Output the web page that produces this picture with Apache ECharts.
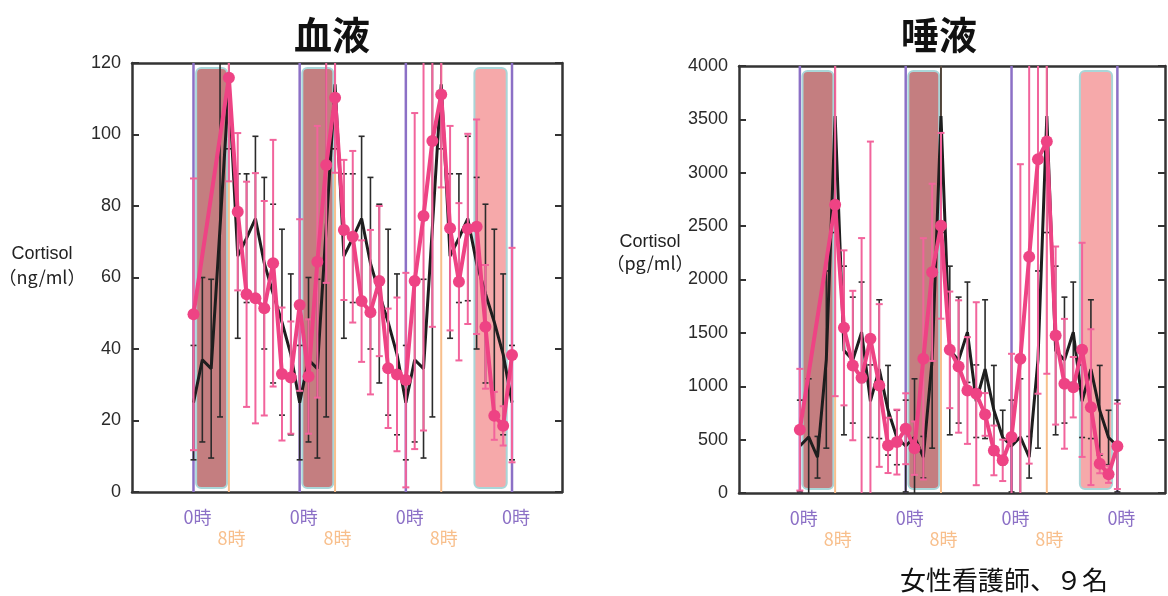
<!DOCTYPE html>
<html><head><meta charset="utf-8">
<script src="https://cdn.jsdelivr.net/npm/echarts@6/dist/echarts.min.js"></script>
<style>html,body{margin:0;padding:0;background:#fff}#c{width:1168px;height:596px}</style>
</head><body><div id="c"></div>
<script>
// ---------- data ----------
const blackHours = [0,2,4,6,8,10,12,14,16,18,20,22,24,26,28,30,32,34,36,38,40,42,44,46,48,50,52,54,56,58,60,62,64,66,68,70,72];
const pinkHours  = [0,8,10,12,14,16,18,20,22,24,26,28,30,32,34,36,38,40,42,44,46,48,50,52,54,56,58,60,62,64,66,68,70,72];

const bloodBlackMean = [25,37,34.5,74,114,66,71,76.5,64,55.5,47.5,38.5, 25,37,34.5,74,114,66,71,76.5,64,55.5,47.5,38.5, 25,37,34.5,74,114,66,71,76.5,64,55.5,47.5,38.5, 25];
const bloodBlackSd   = [16,23,25,53,18,23,18,23,24,25,26,22.5, 16,23,25,53,18,23,18,23,24,25,26,22.5, 16,23,25,53,18,23,18,23,24,25,26,22.5, 16];
const bloodPinkMean = [49.7,115.9,78.4,55.3,54.2,51.4,64.0,33.0,32.0, 52.3,32.3,64.4,91.5,110.3,73.3,71.4,53.4,50.3,59.0,34.6,32.9, 31.3,59.0,77.2,98.2,111.2,73.8,58.8,73.6,74.2,46.2,21.3,18.5, 38.3];
const bloodPinkSd   = [38,29,22,31.5,35,30,34.5,18.6,15.7, 24,16,38,33,21,19.6,24,17,23,21,16.7,21.5, 30,47,60,52,26,28.6,22,26.6,30,17.3,6.7,5.5, 30];

const salivaBlackMean = [440,525,335,1250,3530,1335,1245,1506,860,1160,775,520, 440,525,335,1250,3530,1335,1245,1506,860,1160,775,520, 440,525,335,1250,3530,1335,1245,1506,860,1160,775,520, 440];
const salivaBlackSd   = [430,545,195,830,1090,790,590,470,340,650,420,255, 430,545,195,830,1090,790,590,470,340,650,420,255, 430,545,195,830,1090,790,590,470,340,650,420,255, 430];
const salivaPinkMean = [593,2700,1547,1194,1079,1444,1007,446,477, 602,420,1257,2067,2503,1341,1185,960,930,736,399,306, 524,1257,2214,3127,3292,1475,1023,991,1341,804,275,175, 437];
const salivaPinkSd   = [570,1793,726,700,1309,1848,762,259,304, 332,250,1130,830,870,546,620,500,857,200,233,194, 780,1823,1939,2197,2175,834,608,283,1003,730,90,80, 400];

const zeroHours = [0,24,48,72];
const eightHours = [8,32,56];
const sleepBands = [[0.6,7.6,1],[24.6,31.6,1],[63.5,70.8,0]]; // [start h, end h, dark?]

const bloodTicks = {min:0,max:120,interval:20};
const salivaTicks = {min:0,max:4000,interval:500};

// ---------- helpers ----------
const PINK = '#ee4384', PINK_ERR = '#f2649c', BLACK = '#1e1e1e';
const PURPLE = '#8c70c6', ORANGE = '#f8bf8c';
const AX = '#333';
const zip3 = (a,b,c)=>a.map((v,i)=>[v,b[i],c[i]]);
const zip2 = (a,b)=>a.map((v,i)=>[v,b[i]]);

function bandRender(params, api){
  const cs = params.coordSys;
  const x0 = api.coord([api.value(0), 0])[0];
  const x1 = api.coord([api.value(1), 0])[0];
  const dark = api.value(2) === 1;
  return {type:'rect', shape:{x:x0, y:cs.y+5, width:x1-x0, height:cs.height-9, r:5},
    style:{fill: dark ? '#c47e80' : '#f6a9aa', stroke:'#a9d6d8', lineWidth:2}};
}
function vlineRender(params, api){
  const cs = params.coordSys;
  const x = api.coord([api.value(0), 0])[0];
  const isZero = api.value(1) === 0;
  return {type:'line', shape:{x1:x, y1:cs.y, x2:x, y2:cs.y+cs.height},
    style:{stroke: isZero ? PURPLE : ORANGE, lineWidth: isZero ? 2.5 : 2}};
}
function errRender(color, lw, capW){
  return function(params, api){
    const cs = params.coordSys;
    const x = api.value(0), m = api.value(1), s = api.value(2);
    const pT = api.coord([x, m+s]), pB = api.coord([x, m-s]);
    const px = pT[0];
    const top = cs.y, bot = cs.y + cs.height;
    let yT = pT[1], yB = pB[1];
    const capT = yT >= top, capB = yB <= bot;
    yT = Math.max(yT, top); yB = Math.min(yB, bot);
    const st = {stroke:color, lineWidth:lw};
    const ch = [{type:'line', shape:{x1:px,y1:yT,x2:px,y2:yB}, style:st}];
    if (capT) ch.push({type:'line', shape:{x1:px-capW/2,y1:yT,x2:px+capW/2,y2:yT}, style:st});
    if (capB) ch.push({type:'line', shape:{x1:px-capW/2,y1:yB,x2:px+capW/2,y2:yB}, style:st});
    return {type:'group', children:ch};
  };
}

const grids = [
  {left:132, top:63, width:430, height:429, xmin:-13.9, xmax:83.3, ticks:bloodTicks,
   bm:bloodBlackMean, bs:bloodBlackSd, pm:bloodPinkMean, ps:bloodPinkSd},
  {left:739, top:66, width:426, height:427, xmin:-13.8, xmax:82.8, ticks:salivaTicks,
   bm:salivaBlackMean, bs:salivaBlackSd, pm:salivaPinkMean, ps:salivaPinkSd}
];

const option = {animation:false, grid:[], xAxis:[], yAxis:[], series:[], graphic:[]};
const lblFont = '"Noto Sans CJK JP", sans-serif';
grids.forEach((g, gi)=>{
  option.grid.push({left:g.left, top:g.top, width:g.width, height:g.height, containLabel:false});
  const xb = option.xAxis.length;
  const xCommon = {gridIndex:gi, type:'value', min:g.xmin, max:g.xmax, splitLine:{show:false}, axisTick:{show:false}};
  option.xAxis.push(Object.assign({}, xCommon, {position:'bottom',
    axisLine:{show:true, onZero:false, lineStyle:{color:AX, width:2.5}},
    axisLabel:{show:true, customValues:zeroHours, formatter:()=> '0時', color:PURPLE, fontSize:18, fontFamily:lblFont, margin:16, padding:[0,0,0,8]}}));
  option.xAxis.push(Object.assign({}, xCommon, {position:'bottom',
    axisLine:{show:false},
    axisLabel:{show:true, customValues:eightHours, formatter:()=> '8時', color:ORANGE, fontSize:18, fontFamily:lblFont, margin:37, padding:[0,0,0,5]}}));
  option.xAxis.push(Object.assign({}, xCommon, {position:'top',
    axisLine:{show:true, onZero:false, lineStyle:{color:AX, width:2.5}}, axisLabel:{show:false}}));
  const yb = option.yAxis.length;
  const yCommon = {gridIndex:gi, type:'value', min:g.ticks.min, max:g.ticks.max, interval:g.ticks.interval, splitLine:{show:false},
    axisLine:{show:true, onZero:false, lineStyle:{color:AX, width:2.5}},
    axisTick:{show:true, inside:true, length:7, lineStyle:{color:AX, width:2}}};
  option.yAxis.push(Object.assign({}, yCommon, {position:'left',
    axisLabel:{show:true, formatter:(v)=> String(v), color:'#2a2a2a', fontSize:18, fontFamily:'"Liberation Sans", Arial, sans-serif', margin:11}}));
  option.yAxis.push(Object.assign({}, yCommon, {position:'right', axisLabel:{show:false}}));

  const ax = {xAxisIndex:xb, yAxisIndex:yb};
  option.series.push(Object.assign({type:'custom', renderItem:bandRender, data:sleepBands, z:1, silent:true}, ax));
  option.series.push(Object.assign({type:'custom', renderItem:vlineRender,
    data: zeroHours.map(h=>[h,0]).concat(eightHours.map(h=>[h,1])), z:2, silent:true}, ax));
  option.series.push(Object.assign({type:'custom', renderItem:errRender('#2b2b2b',1.6,6),
    data: zip3(blackHours, g.bm, g.bs), z:3, silent:true}, ax));
  option.series.push(Object.assign({type:'line', data: zip2(blackHours, g.bm), symbol:'none',
    lineStyle:{color:BLACK, width:3}, z:4, silent:true}, ax));
  option.series.push(Object.assign({type:'custom', renderItem:errRender(PINK_ERR,2,7),
    data: zip3(pinkHours, g.pm, g.ps), z:5, silent:true}, ax));
  option.series.push(Object.assign({type:'line', data: zip2(pinkHours, g.pm), symbol:'circle', symbolSize:12,
    itemStyle:{color:PINK}, lineStyle:{color:PINK, width:4}, z:6, silent:true}, ax));
});

const tFont = 'bold 38px "Noto Sans CJK JP", sans-serif';
const nFont = '18px "Noto Sans CJK JP", sans-serif';
option.graphic = [
  {type:'text', style:{text:'血液', x:332, y:35, textAlign:'center', textVerticalAlign:'middle', font:tFont, fill:'#111'}},
  {type:'text', style:{text:'唾液', x:939, y:35, textAlign:'center', textVerticalAlign:'middle', font:tFont, fill:'#111'}},
  {type:'text', style:{text:'Cortisol', x:42, y:254, textAlign:'center', textVerticalAlign:'middle', font:'18px "Liberation Sans", Arial, sans-serif', fill:'#222'}},
  {type:'text', style:{text:'（ng/ml）', x:42, y:277, textAlign:'center', textVerticalAlign:'middle', font:nFont, fill:'#222'}},
  {type:'text', style:{text:'Cortisol', x:650, y:242, textAlign:'center', textVerticalAlign:'middle', font:'18px "Liberation Sans", Arial, sans-serif', fill:'#222'}},
  {type:'text', style:{text:'（pg/ml）', x:650, y:263, textAlign:'center', textVerticalAlign:'middle', font:nFont, fill:'#222'}},
  {type:'text', style:{text:'女性看護師、９名', x:900, y:580, textAlign:'left', textVerticalAlign:'middle', font:'26px "Noto Sans CJK JP", sans-serif', fill:'#111'}}
];

const chart = echarts.init(document.getElementById('c'), null, {renderer:'canvas'});
chart.setOption(option);
</script></body></html>
